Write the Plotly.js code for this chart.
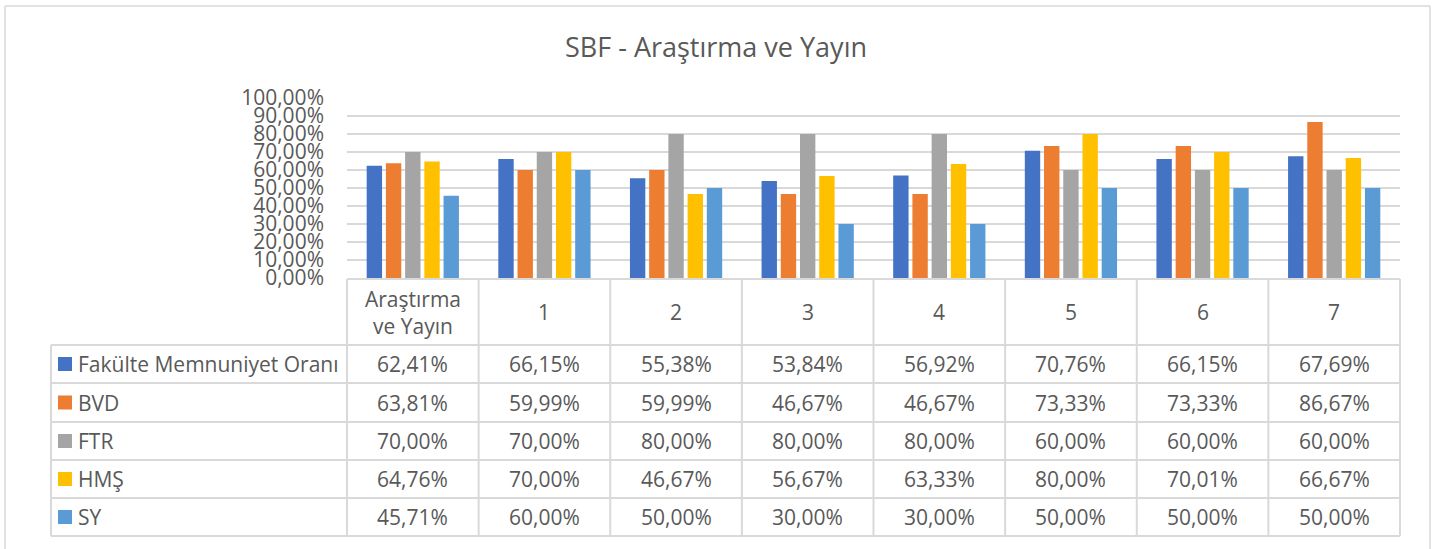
<!DOCTYPE html>
<html><head><meta charset="utf-8">
<script src="https://cdn.plot.ly/plotly-3.0.1.min.js"></script>
<style>html,body{margin:0;padding:0;background:#fff;}</style>
</head><body>
<div id="chart" style="width:1448px;height:549px;"></div>
<script>
const categories = ["Araştırma<br>ve Yayın", "1", "2", "3", "4", "5", "6", "7"];
const seriesNames = ["Fakülte Memnuniyet Oranı", "BVD", "FTR", "HMŞ", "SY"];
const fakulte = [62.41, 66.15, 55.38, 53.84, 56.92, 70.76, 66.15, 67.69];
const bvd     = [63.81, 59.99, 59.99, 46.67, 46.67, 73.33, 73.33, 86.67];
const ftr     = [70.00, 70.00, 80.00, 80.00, 80.00, 60.00, 60.00, 60.00];
const hms     = [64.76, 70.00, 46.67, 56.67, 63.33, 80.00, 70.01, 66.67];
const sy      = [45.71, 60.00, 50.00, 30.00, 30.00, 50.00, 50.00, 50.00];
const colors = ["#4472C4", "#ED7D31", "#A5A5A5", "#FFC000", "#5B9BD5"];
const title = "SBF - Araştırma ve Yayın";

const allSeries = [fakulte, bvd, ftr, hms, sy];
const W = 1448, H = 549;
const px = x => x / W;
const py = y => 1 - y / H;
const FONT = "Open Sans, sans-serif";
const TXT = "#595959";
const LINE = "#d9d9d9";
const FS = 21;

const xs = categories.map((c, i) => i);
const traces = allSeries.map((vals, k) => ({
  type: "bar", x: xs, y: vals, name: seriesNames[k],
  marker: {color: colors[k]}, hoverinfo: "skip"
}));

const plotL = 347, plotR = 1400, plotT = 98, plotB = 278;
const colW = (plotR - plotL) / categories.length;
const headTop = 279, headBot = 345;
const rowLines = [345, 383, 422, 460, 498, 536];
const labelLeft = 51;

const shapes = [];
const annotations = [];
function hline(y, x0, x1) {
  shapes.push({type: "line", xref: "paper", yref: "paper", x0: px(x0), x1: px(x1), y0: py(y), y1: py(y), line: {color: LINE, width: 2}});
}
function vline(x, y0, y1) {
  shapes.push({type: "line", xref: "paper", yref: "paper", x0: px(x), x1: px(x), y0: py(y0), y1: py(y1), line: {color: LINE, width: 2}});
}
// outer frame
shapes.push({type: "line", xref: "paper", yref: "paper", x0: px(5), x1: px(1430), y0: py(6), y1: py(6), line: {color: LINE, width: 1.5}});
shapes.push({type: "line", xref: "paper", yref: "paper", x0: px(5), x1: px(5), y0: py(6), y1: py(549), line: {color: LINE, width: 1.5}});
shapes.push({type: "line", xref: "paper", yref: "paper", x0: px(1430), x1: px(1430), y0: py(6), y1: py(549), line: {color: LINE, width: 1.5}});

// table grid
hline(headTop, plotL, plotR);
rowLines.forEach(y => hline(y, labelLeft, plotR));
for (let i = 0; i <= categories.length; i++) vline(plotL + i * colW, headTop, rowLines[rowLines.length - 1]);
vline(labelLeft, headBot, rowLines[rowLines.length - 1]);

// header labels
categories.forEach((c, i) => {
  annotations.push({xref: "x", yref: "paper", x: i, y: py((headTop + headBot) / 2), text: c, showarrow: false,
    font: {family: FONT, size: FS, color: TXT}, xanchor: "center", yanchor: "middle"});
});
const fmt = v => v.toFixed(2).replace(".", ",") + "%";
allSeries.forEach((vals, k) => {
  const yc = (rowLines[k] + rowLines[k + 1]) / 2;
  shapes.push({type: "rect", xref: "paper", yref: "paper", x0: px(58), x1: px(72), y0: py(yc - 7), y1: py(yc + 7),
    fillcolor: colors[k], line: {width: 0}});
  annotations.push({xref: "paper", yref: "paper", x: px(76), y: py(yc), text: seriesNames[k], showarrow: false,
    font: {family: FONT, size: FS, color: TXT}, xanchor: "left", yanchor: "middle"});
  vals.forEach((v, i) => {
    annotations.push({xref: "x", yref: "paper", x: i, y: py(yc), text: fmt(v), showarrow: false,
      font: {family: FONT, size: FS, color: TXT}, xanchor: "center", yanchor: "middle"});
  });
});

const layout = {
  width: W, height: H, autosize: false,
  margin: {l: 0, r: 0, t: 0, b: 0},
  paper_bgcolor: "#fff", plot_bgcolor: "#fff",
  separators: ",.",
  title: {text: title, x: px(716), xanchor: "center", y: py(48), yanchor: "middle", font: {family: FONT, size: 27, color: TXT}},
  showlegend: false,
  barmode: "group", bargap: 0.27, bargroupgap: 0.2,
  xaxis: {domain: [px(plotL), px(plotR)], range: [-0.5, categories.length - 0.5], showticklabels: false,
    showgrid: false, zeroline: false, showline: false, fixedrange: true},
  yaxis: {domain: [py(plotB), py(plotT)], range: [0, 100], dtick: 10, tick0: 0, tickformat: ".2f", ticksuffix: "%",
    showgrid: true, gridcolor: LINE, gridwidth: 1.5, zeroline: false, showline: false,
    tickfont: {family: FONT, size: FS, color: TXT}, ticklabelstandoff: 22, fixedrange: true},
  shapes: shapes, annotations: annotations
};
Plotly.newPlot("chart", traces, layout, {displayModeBar: false, staticPlot: true});
</script>
</body></html>
